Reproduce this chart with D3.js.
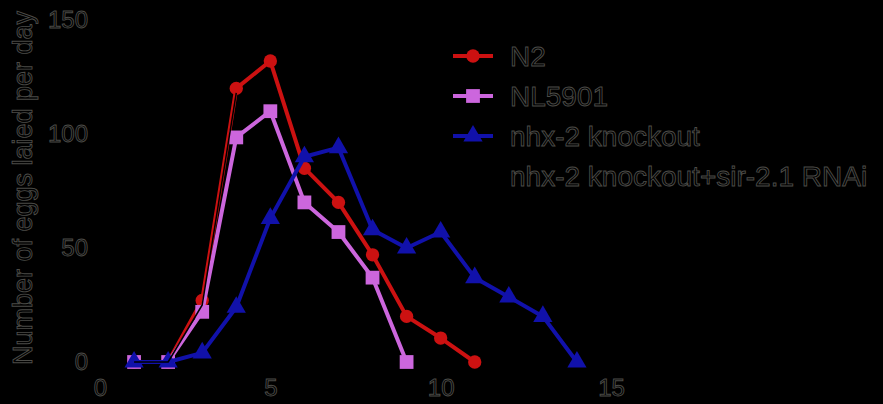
<!DOCTYPE html>
<html><head><meta charset="utf-8">
<script src="https://cdn.jsdelivr.net/npm/d3@7"></script>
<style>
html,body{margin:0;padding:0;background:#000;}
svg{display:block;background:#000;}
text{font-family:"Liberation Sans",Arial,sans-serif;}
</style></head>
<body>
<svg id="c" width="883" height="404"></svg>
<script>
const days = [1,2,3,4,5,6,7,8,9,10,11,12,13,14];
const n2 = [0,0,27,120,132,85,70,47,20,10.5,0];
const nl5901 = [0,0,22,98.5,110,70,57,37,0];
const nhx2 = [0,0,4,24,63,90,94,58,50,57,37,28.5,20,0];
const nhx2Rnai = [0,0,25,118];
const seriesNames = ["N2","NL5901","nhx-2 knockout","nhx-2 knockout+sir-2.1 RNAi"];
const xTicks = [0,5,10,15];
const yTicks = [0,50,100,150];

const svg = d3.select("#c");
const x = d3.scaleLinear().domain([0,15]).range([100,611]);
const y = d3.scaleLinear().domain([0,150]).range([362,20]);

const series = [
  {name:seriesNames[0], vals:n2, color:"#cc1111", sym:d3.symbolCircle, size:140, w:4},
  {name:seriesNames[1], vals:nl5901, color:"#cc66dd", sym:d3.symbolSquare, size:190, w:4},
  {name:seriesNames[2], vals:nhx2, color:"#1111aa", sym:d3.symbolTriangle, size:160, w:4},
  {name:seriesNames[3], vals:nhx2Rnai, color:"#000000", sym:null, size:0, w:1.5}
];

const outline = sel => sel.attr("fill","#000").attr("stroke","#4c4c48").attr("stroke-width",0.9);

// axes (black, as in reference)
const xa = svg.append("g").attr("transform",`translate(0,${y(0)})`)
  .call(d3.axisBottom(x).tickValues(xTicks).tickSize(0).tickPadding(17));
const ya = svg.append("g").attr("transform",`translate(${x(0)},0)`)
  .call(d3.axisLeft(y).tickValues(yTicks).tickSize(0).tickPadding(12));
[xa,ya].forEach(a=>{
  a.select(".domain").attr("stroke","#000").attr("stroke-width",2);
  a.selectAll("text").attr("font-size",24).call(outline);
});

// y label
svg.append("text").attr("transform","translate(32,188) rotate(-90)")
  .attr("text-anchor","middle").attr("font-size",27)
  .text("Number of eggs laied per day").call(outline);

const line = d3.line().x((d,i)=>x(days[i])).y(d=>y(d));
series.forEach(s=>{
  const g = svg.append("g");
  g.append("path").datum(s.vals).attr("d",line).attr("fill","none")
    .attr("stroke",s.color).attr("stroke-width",s.w).attr("stroke-linejoin","round");
  if(s.sym){
    g.selectAll("path.m").data(s.vals).join("path").attr("class","m")
      .attr("transform",(d,i)=>`translate(${x(days[i])},${y(d)})`)
      .attr("d",d3.symbol().type(s.sym).size(s.size)).attr("fill",s.color);
  }
});

// legend
const leg = svg.append("g");
series.forEach((s,i)=>{
  const yy = 56 + i*40;
  const row = leg.append("g").attr("transform",`translate(0,${yy})`);
  row.append("line").attr("x1",453).attr("x2",493).attr("y1",0).attr("y2",0)
    .attr("stroke",s.color).attr("stroke-width",4);
  if(s.sym) row.append("path").attr("transform","translate(473,0)")
    .attr("d",d3.symbol().type(s.sym).size(s.size)).attr("fill",s.color);
  row.append("text").attr("x",510).attr("y",0).attr("dy","0.36em")
    .attr("font-size",28).text(s.name).call(outline);
});
</script>
</body></html>
